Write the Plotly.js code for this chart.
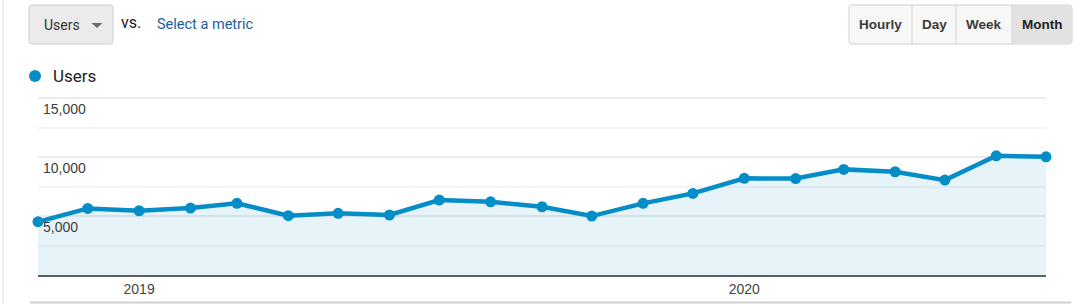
<!DOCTYPE html>
<html>
<head>
<meta charset="utf-8">
<script src="https://cdn.plot.ly/plotly-3.0.1.min.js"></script>
<style>
html,body{margin:0;padding:0;background:#fff;}
#chart{width:1092px;height:304px;}
</style>
</head>
<body>
<div id="chart"></div>
<script>
// Data
const months = ['2018-11-01','2018-12-01','2019-01-01','2019-02-01','2019-03-01','2019-04-01','2019-05-01',
  '2019-06-01','2019-07-01','2019-08-01','2019-09-01','2019-10-01','2019-11-01','2019-12-01',
  '2020-01-01','2020-02-01','2020-03-01','2020-04-01','2020-05-01','2020-06-01','2020-07-01'];
const users = [4520,5650,5450,5680,6080,5030,5230,5090,6360,6210,5790,5000,6080,6920,8200,8180,8960,8760,8050,10110,10030];
const xTickVals = ['2019-01-01','2020-01-01'];
const xTickText = ['2019','2020'];
const yTickVals = [5000,10000,15000];
const yTickText = ['5,000','10,000','15,000'];
const seriesName = 'Users';
const periodButtons = ['Hourly','Day','Week','Month'];

// geometry helpers (pixel -> paper)
const L = 38, R = 1046, T = 97, B = 275;
const px = x => (x - L) / (R - L);
const py = y => (B - y) / (B - T);

function rrect(x0,y0,x1,y1,r){
  const a=px(x0),b=px(x1),c=py(y0),d=py(y1);
  const rx=r/(R-L), ry=r/(B-T);
  return `M${a+rx},${c} L${b-rx},${c} Q${b},${c} ${b},${c-ry} L${b},${d+ry} Q${b},${d} ${b-rx},${d} L${a+rx},${d} Q${a},${d} ${a},${d+ry} L${a},${c-ry} Q${a},${c} ${a+rx},${c} Z`;
}

const shapes = [];
const annotations = [];
// dropdown
shapes.push({type:'path', xref:'paper', yref:'paper', path: rrect(29,5,113,44,3), fillcolor:'#ebebeb', line:{color:'#cfcfcf', width:1}});
shapes.push({type:'path', xref:'paper', yref:'paper', path:`M${px(91.5)},${py(23)} L${px(102.5)},${py(23)} L${px(97)},${py(28)} Z`, fillcolor:'#6b6b6b', line:{width:0}});
annotations.push({xref:'paper', yref:'paper', x:px(42), y:py(25), xanchor:'left', yanchor:'middle', text:seriesName, showarrow:false, font:{family:'Roboto', size:14, color:'#333'}});
annotations.push({xref:'paper', yref:'paper', x:px(119), y:py(22), xanchor:'left', yanchor:'middle', text:'vs.', showarrow:false, font:{family:'Roboto', size:16, color:'#222'}});
annotations.push({xref:'paper', yref:'paper', x:px(155), y:py(25), xanchor:'left', yanchor:'middle', text:'Select a metric', showarrow:false, font:{family:'Roboto', size:14.5, color:'#22609e'}});

// period buttons
const bEdges = [849, 912, 956, 1012, 1072];
shapes.push({type:'path', xref:'paper', yref:'paper', path: rrect(849,5,1072,44,3), fillcolor:'#f7f7f7', line:{color:'#cfcfcf', width:1}});
shapes.push({type:'rect', xref:'paper', yref:'paper', x0:px(1012.5), x1:px(1071.5), y0:py(5.5), y1:py(43.5), fillcolor:'#e2e2e2', line:{width:0}});
for (let i=1;i<bEdges.length-1;i++){
  shapes.push({type:'line', xref:'paper', yref:'paper', x0:px(bEdges[i]), x1:px(bEdges[i]), y0:py(5), y1:py(44), line:{color:'#d2d2d2', width:1}});
}
periodButtons.forEach((t,i)=>{
  annotations.push({xref:'paper', yref:'paper', x:px((bEdges[i]+bEdges[i+1])/2), y:py(25), xanchor:'center', yanchor:'middle', text:'<b>'+t+'</b>', showarrow:false, font:{family:'Liberation Sans, Arial', size:13.5, color: i===3 ? '#222' : '#3a3a3a'}});
});

// legend
shapes.push({type:'circle', xref:'paper', yref:'paper', x0:px(29), x1:px(41), y0:py(70), y1:py(82), fillcolor:'#058dc7', line:{width:0}});
annotations.push({xref:'paper', yref:'paper', x:px(51), y:py(76), xanchor:'left', yanchor:'middle', text:seriesName, showarrow:false, font:{family:'Roboto', size:17, color:'#222'}});

// bottom rule
shapes.push({type:'line', xref:'paper', yref:'paper', x0:px(30), x1:px(1071), y0:py(302.5), y1:py(302.5), line:{color:'#d0d0d0', width:2}});
// left page edge
shapes.push({type:'line', xref:'paper', yref:'paper', x0:px(3), x1:px(3), y0:py(0), y1:py(304), line:{color:'#f0f0f0', width:2}});

const trace = {
  x: months, y: users, type:'scatter', mode:'lines+markers', name: seriesName,
  line:{color:'#058dc7', width:4.5},
  marker:{color:'#058dc7', size:11},
  fill:'tozeroy', fillcolor:'rgba(5,141,199,0.1)',
  cliponaxis:false, hoverinfo:'x+y'
};

const layout = {
  width:1092, height:304,
  margin:{l:L, r:1092-R, t:T, b:304-B, pad:0},
  paper_bgcolor:'#fff', plot_bgcolor:'#fff',
  showlegend:false,
  font:{family:'Liberation Sans, Arial', size:14, color:'#444'},
  xaxis:{
    type:'date', range:[months[0], months[months.length-1]],
    tickvals:xTickVals, ticktext:xTickText, showgrid:false, zeroline:false,
    showline:true, linecolor:'#5f5f5f', linewidth:2, ticks:'',
    tickfont:{family:'Liberation Sans, Arial', size:14, color:'#444'}
  },
  yaxis:{
    range:[0,15100], tickvals:yTickVals, ticktext:yTickText,
    showgrid:true, gridcolor:'#ebebeb', gridwidth:2, zeroline:false, showline:false,
    ticklabelposition:'inside', ticklabelshift:11, ticklabelstandoff:2,
    tickfont:{family:'Liberation Sans, Arial', size:14, color:'#3c3c3c'},
    minor:{tickvals:[2500,7500,12500], showgrid:true, gridcolor:'#f4f4f4', gridwidth:2}
  },
  shapes: shapes,
  annotations: annotations
};

Plotly.newPlot('chart', [trace], layout, {displayModeBar:false, staticPlot:true});
</script>
</body>
</html>
